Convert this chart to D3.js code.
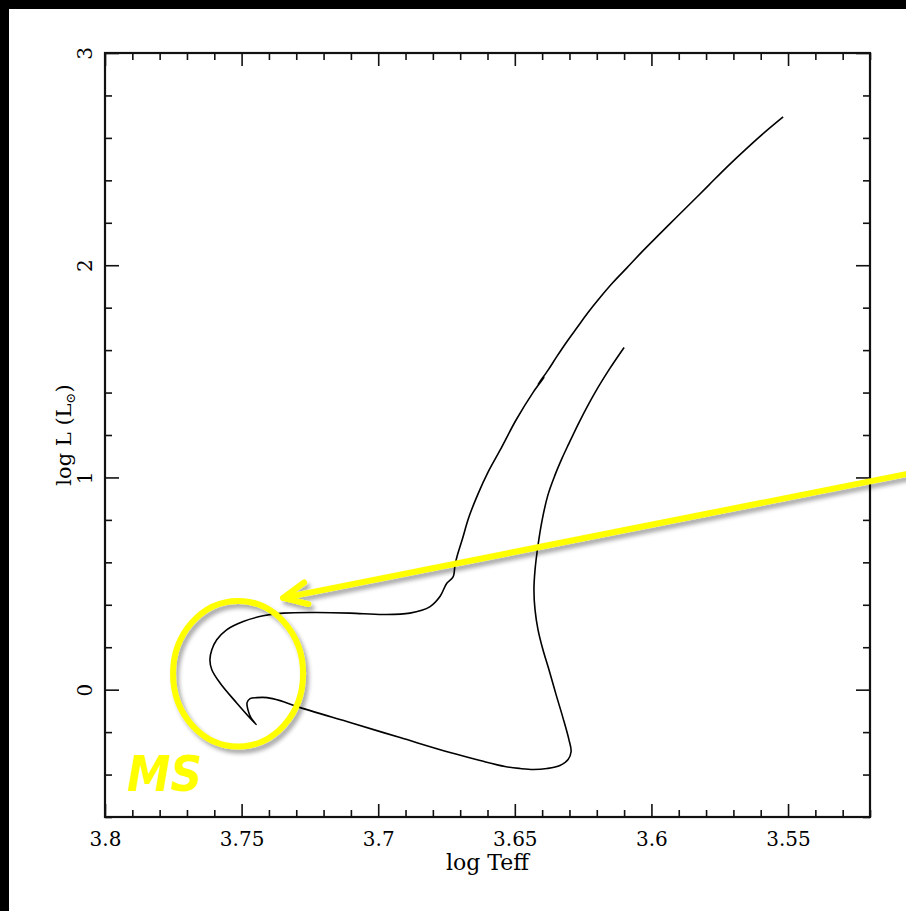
<!DOCTYPE html>
<html><head><meta charset="utf-8">
<script src="https://cdn.jsdelivr.net/npm/d3@7"></script>
<style>
html,body{margin:0;padding:0;background:#000;}
svg{display:block;}
</style></head>
<body>
<script>
// ---- data ----
const logTeff = [3.6100,3.6152,3.6206,3.6261,3.6305,3.6327,3.6353,3.6379,3.6400,3.6415,3.6426,3.6430,3.6426,3.6415,3.6397,3.6375,3.6349,3.6324,3.6302,3.6294,3.6305,3.6335,3.6382,3.6433,3.6481,3.6536,3.6627,3.6737,3.6920,3.7103,3.7297,3.7359,3.7407,3.7444,3.7469,3.7480,3.7477,3.7466,3.7447,
 3.7518,3.7579,3.7609,3.7616,3.7609,3.7591,3.7555,3.7494,3.7421,3.7347,3.7225,3.7103,3.6981,3.6884,3.6810,3.6774,3.6749,3.6726,3.6719,3.6712,3.6693,3.6668,3.6635,3.6598,3.6554,3.6496,3.6433,3.6393,3.6415,3.6379,
 3.6346,3.6309,3.6272,3.6232,3.6188,3.6141,3.6089,3.6034,3.5976,3.5914,3.5851,3.5789,3.5723,3.5657,3.5588,3.5518];
const logL = [1.6126,1.5139,1.4010,1.2694,1.1519,1.0907,1.0108,0.9168,0.7992,0.6817,0.5642,0.4701,0.3761,0.2821,0.1881,0.0940,-0.0235,-0.1316,-0.2351,-0.2915,-0.3291,-0.3573,-0.3714,-0.3761,-0.3714,-0.3620,-0.3338,-0.2962,-0.2257,-0.1551,-0.0799,-0.0517,-0.0376,-0.0376,-0.0423,-0.0611,-0.0940,-0.1316,-0.1646,
 -0.0625,0.0315,0.0940,0.1410,0.1881,0.2351,0.2821,0.3211,0.3479,0.3606,0.3634,0.3606,0.3540,0.3606,0.3916,0.4386,0.5016,0.5313,0.5877,0.6253,0.7052,0.8134,0.9215,1.0249,1.1284,1.2694,1.4010,1.4716,1.4386,1.5045,
 1.5703,1.6408,1.7066,1.7772,1.8477,1.9182,1.9887,2.0640,2.1392,2.2191,2.2990,2.3789,2.4636,2.5435,2.6234,2.6987];
const xMajorTicks = [3.8,3.75,3.7,3.65,3.6,3.55];
const xTickLabels = ["3.8","3.75","3.7","3.65","3.6","3.55"];
const yMajorTicks = [0,1,2,3];
const yTickLabels = ["0","1","2","3"];
const xDomain = [3.8,3.52];
const yDomain = [-0.6,3];
// annotations (data coordinates)
const msEllipse = {cx:3.7513, cy:0.0752, rx:0.0238, ry:0.343};
const arrowFrom = [3.5068,1.0155];
const arrowTo = [3.7348,0.4325];
const msLabel = {text:"MS", x:3.7919, y:-0.4795};

const W=906,H=911;
const L=105,R=870,T=53,B=817;
const svg=d3.select("body").append("svg").attr("width",W).attr("height",H);
svg.append("rect").attr("width",W).attr("height",H).attr("fill","#000");
svg.append("rect").attr("x",9).attr("y",9).attr("width",W-9).attr("height",H-9).attr("fill","#fff");

const defs=svg.append("defs");
const f=defs.append("filter").attr("id","sh").attr("x","-20%").attr("y","-20%").attr("width","140%").attr("height","140%");
f.append("feDropShadow").attr("dx",3).attr("dy",4).attr("stdDeviation",2.2).attr("flood-color","#000").attr("flood-opacity",0.35);

const x=d3.scaleLinear().domain(xDomain).range([L,R]);
const y=d3.scaleLinear().domain(yDomain).range([B,T]);

const xMinor=d3.range(0,29).map(i=>+(3.8-i*0.01).toFixed(2)).filter(v=>!xMajorTicks.some(m=>Math.abs(m-v)<1e-6));
const yMinor=d3.range(0,19).map(i=>+(-0.6+i*0.2).toFixed(2)).filter(v=>!yMajorTicks.some(m=>Math.abs(m-v)<1e-6));

const font="'DejaVu Serif', serif";
function styleAxis(g){g.select(".domain").remove();g.selectAll("line").attr("stroke","#111").attr("stroke-width",1.6);g.selectAll("text").attr("font-family",font).attr("font-size",20).attr("fill","#000");}

// bottom
svg.append("g").attr("transform",`translate(0,${B})`).call(d3.axisBottom(x).tickValues(xMajorTicks).tickFormat((d,i)=>xTickLabels[i]).tickSize(-13).tickPadding(15)).call(styleAxis);
svg.append("g").attr("transform",`translate(0,${B})`).call(d3.axisBottom(x).tickValues(xMinor).tickFormat("").tickSize(-7)).call(styleAxis);
// top
svg.append("g").attr("transform",`translate(0,${T})`).call(d3.axisTop(x).tickValues(xMajorTicks).tickFormat("").tickSize(-13)).call(styleAxis);
svg.append("g").attr("transform",`translate(0,${T})`).call(d3.axisTop(x).tickValues(xMinor).tickFormat("").tickSize(-7)).call(styleAxis);
// left
const ly=svg.append("g").attr("transform",`translate(${L},0)`).call(d3.axisLeft(y).tickValues(yMajorTicks).tickFormat((d,i)=>yTickLabels[i]).tickSize(-14)).call(styleAxis);
ly.selectAll("text").attr("x",null).attr("dy",null).attr("text-anchor","middle").attr("transform","translate(-13,0) rotate(-90)");
svg.append("g").attr("transform",`translate(${L},0)`).call(d3.axisLeft(y).tickValues(yMinor).tickFormat("").tickSize(-7)).call(styleAxis);
// right
svg.append("g").attr("transform",`translate(${R},0)`).call(d3.axisRight(y).tickValues(yMajorTicks).tickFormat("").tickSize(-14)).call(styleAxis);
svg.append("g").attr("transform",`translate(${R},0)`).call(d3.axisRight(y).tickValues(yMinor).tickFormat("").tickSize(-7)).call(styleAxis);

// frame
svg.append("rect").attr("x",L).attr("y",T).attr("width",R-L).attr("height",B-T).attr("fill","none").attr("stroke","#111").attr("stroke-width",2.2);

// axis titles
svg.append("text").attr("x",(L+R)/2).attr("y",870).attr("text-anchor","middle").attr("font-family",font).attr("font-size",22).text("log Teff");
const yl=svg.append("text").attr("transform",`translate(71,${(T+B)/2}) rotate(-90)`).attr("text-anchor","middle").attr("font-family",font).attr("font-size",21);
yl.append("tspan").text("log L (L");
yl.append("tspan").attr("font-size",13).attr("dy",4).text("⊙");
yl.append("tspan").attr("dy",-4).text(")");

// track
const pts=logTeff.map((t,i)=>[t,logL[i]]);
svg.append("path").datum(pts).attr("fill","none").attr("stroke","#000").attr("stroke-width",1.6).attr("stroke-linejoin","round")
  .attr("d",d3.line().x(d=>x(d[0])).y(d=>y(d[1])).curve(d3.curveCatmullRom.alpha(0.5)));

// annotations
const ann=svg.append("g").attr("filter","url(#sh)");
ann.append("ellipse").attr("cx",x(msEllipse.cx)).attr("cy",y(msEllipse.cy))
  .attr("rx",Math.abs(x(msEllipse.cx+msEllipse.rx)-x(msEllipse.cx))).attr("ry",Math.abs(y(msEllipse.cy+msEllipse.ry)-y(msEllipse.cy)))
  .attr("fill","none").attr("stroke","#ffff00").attr("stroke-width",6);
const x1=x(arrowFrom[0]),y1=y(arrowFrom[1]),x2=x(arrowTo[0]),y2=y(arrowTo[1]);
ann.append("line").attr("x1",x1).attr("y1",y1).attr("x2",x2).attr("y2",y2).attr("stroke","#ffff00").attr("stroke-width",6).attr("stroke-linecap","round");
const ang=Math.atan2(y1-y2,x1-x2), hl=26, ha=25*Math.PI/180;
ann.append("path").attr("d",`M${x2+hl*Math.cos(ang-ha)},${y2+hl*Math.sin(ang-ha)}L${x2},${y2}L${x2+hl*Math.cos(ang+ha)},${y2+hl*Math.sin(ang+ha)}`)
  .attr("fill","none").attr("stroke","#ffff00").attr("stroke-width",6).attr("stroke-linecap","round").attr("stroke-linejoin","round");
svg.append("text").attr("x",x(msLabel.x)).attr("y",y(msLabel.y)).attr("font-family","'DejaVu Sans', sans-serif").attr("font-weight","bold").attr("font-style","italic").attr("font-size",50).attr("fill","#ffff00").attr("textLength",75).attr("lengthAdjust","spacingAndGlyphs").text(msLabel.text);
</script>
</body></html>
